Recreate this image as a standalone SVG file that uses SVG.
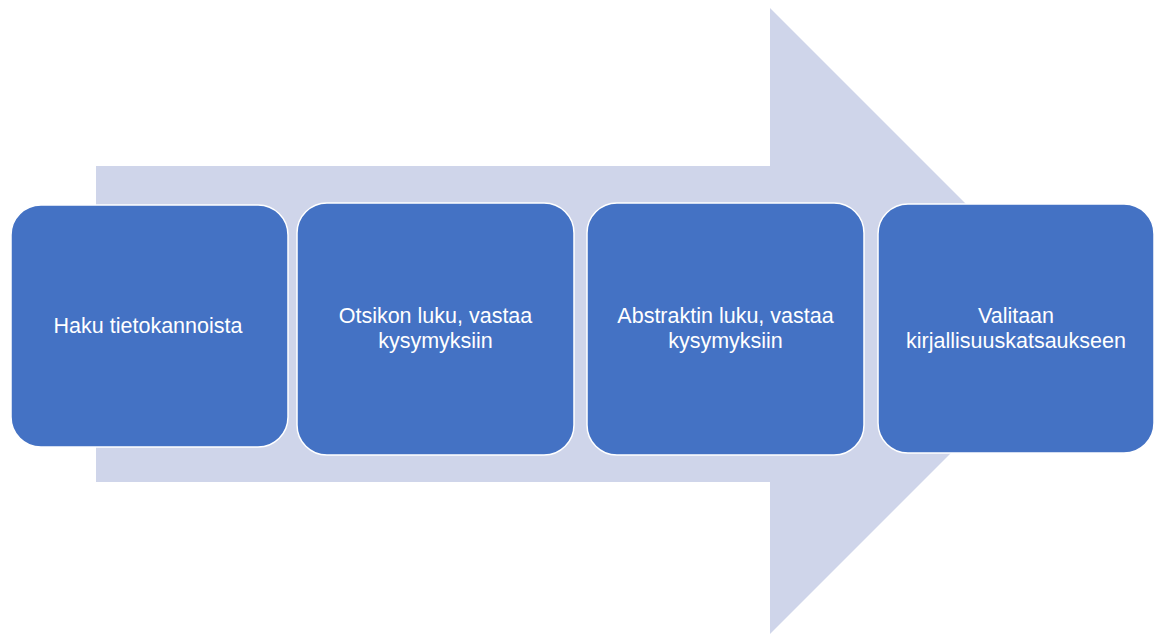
<svg xmlns="http://www.w3.org/2000/svg" width="1157" height="634" viewBox="0 0 1157 634">
  <style>
    .box { fill: #4472c4; stroke: #ffffff; stroke-width: 1.5; }
    .lbl { fill: #ffffff; font-family: "Liberation Sans", Arial, sans-serif; font-size: 21.5px; text-anchor: middle; }
  </style>
  <rect width="1157" height="634" fill="#ffffff"/>
  <g id="arrow">
    <polygon points="96,166 770,166 770,8 1083,321 770,634 770,482 96,482" fill="#cfd5ea"/>
  </g>
  <g id="connectors"></g>
  <g id="node1">
    <rect class="box" x="11" y="205" width="277" height="242" rx="30" ry="30"/>
    <text class="lbl" x="148" y="333">Haku tietokannoista</text>
  </g>
  <g id="node2">
    <rect class="box" x="297" y="203" width="277" height="252" rx="30" ry="30"/>
    <text class="lbl" x="435.5" y="323">Otsikon luku, vastaa</text>
    <text class="lbl" x="435.5" y="348">kysymyksiin</text>
  </g>
  <g id="node3">
    <rect class="box" x="587" y="203" width="277" height="252" rx="30" ry="30"/>
    <text class="lbl" x="725.5" y="323">Abstraktin luku, vastaa</text>
    <text class="lbl" x="725.5" y="348">kysymyksiin</text>
  </g>
  <g id="node4">
    <rect class="box" x="878" y="204" width="276" height="249" rx="30" ry="30"/>
    <text class="lbl" x="1016" y="323">Valitaan</text>
    <text class="lbl" x="1016" y="348">kirjallisuuskatsaukseen</text>
  </g>
</svg>
